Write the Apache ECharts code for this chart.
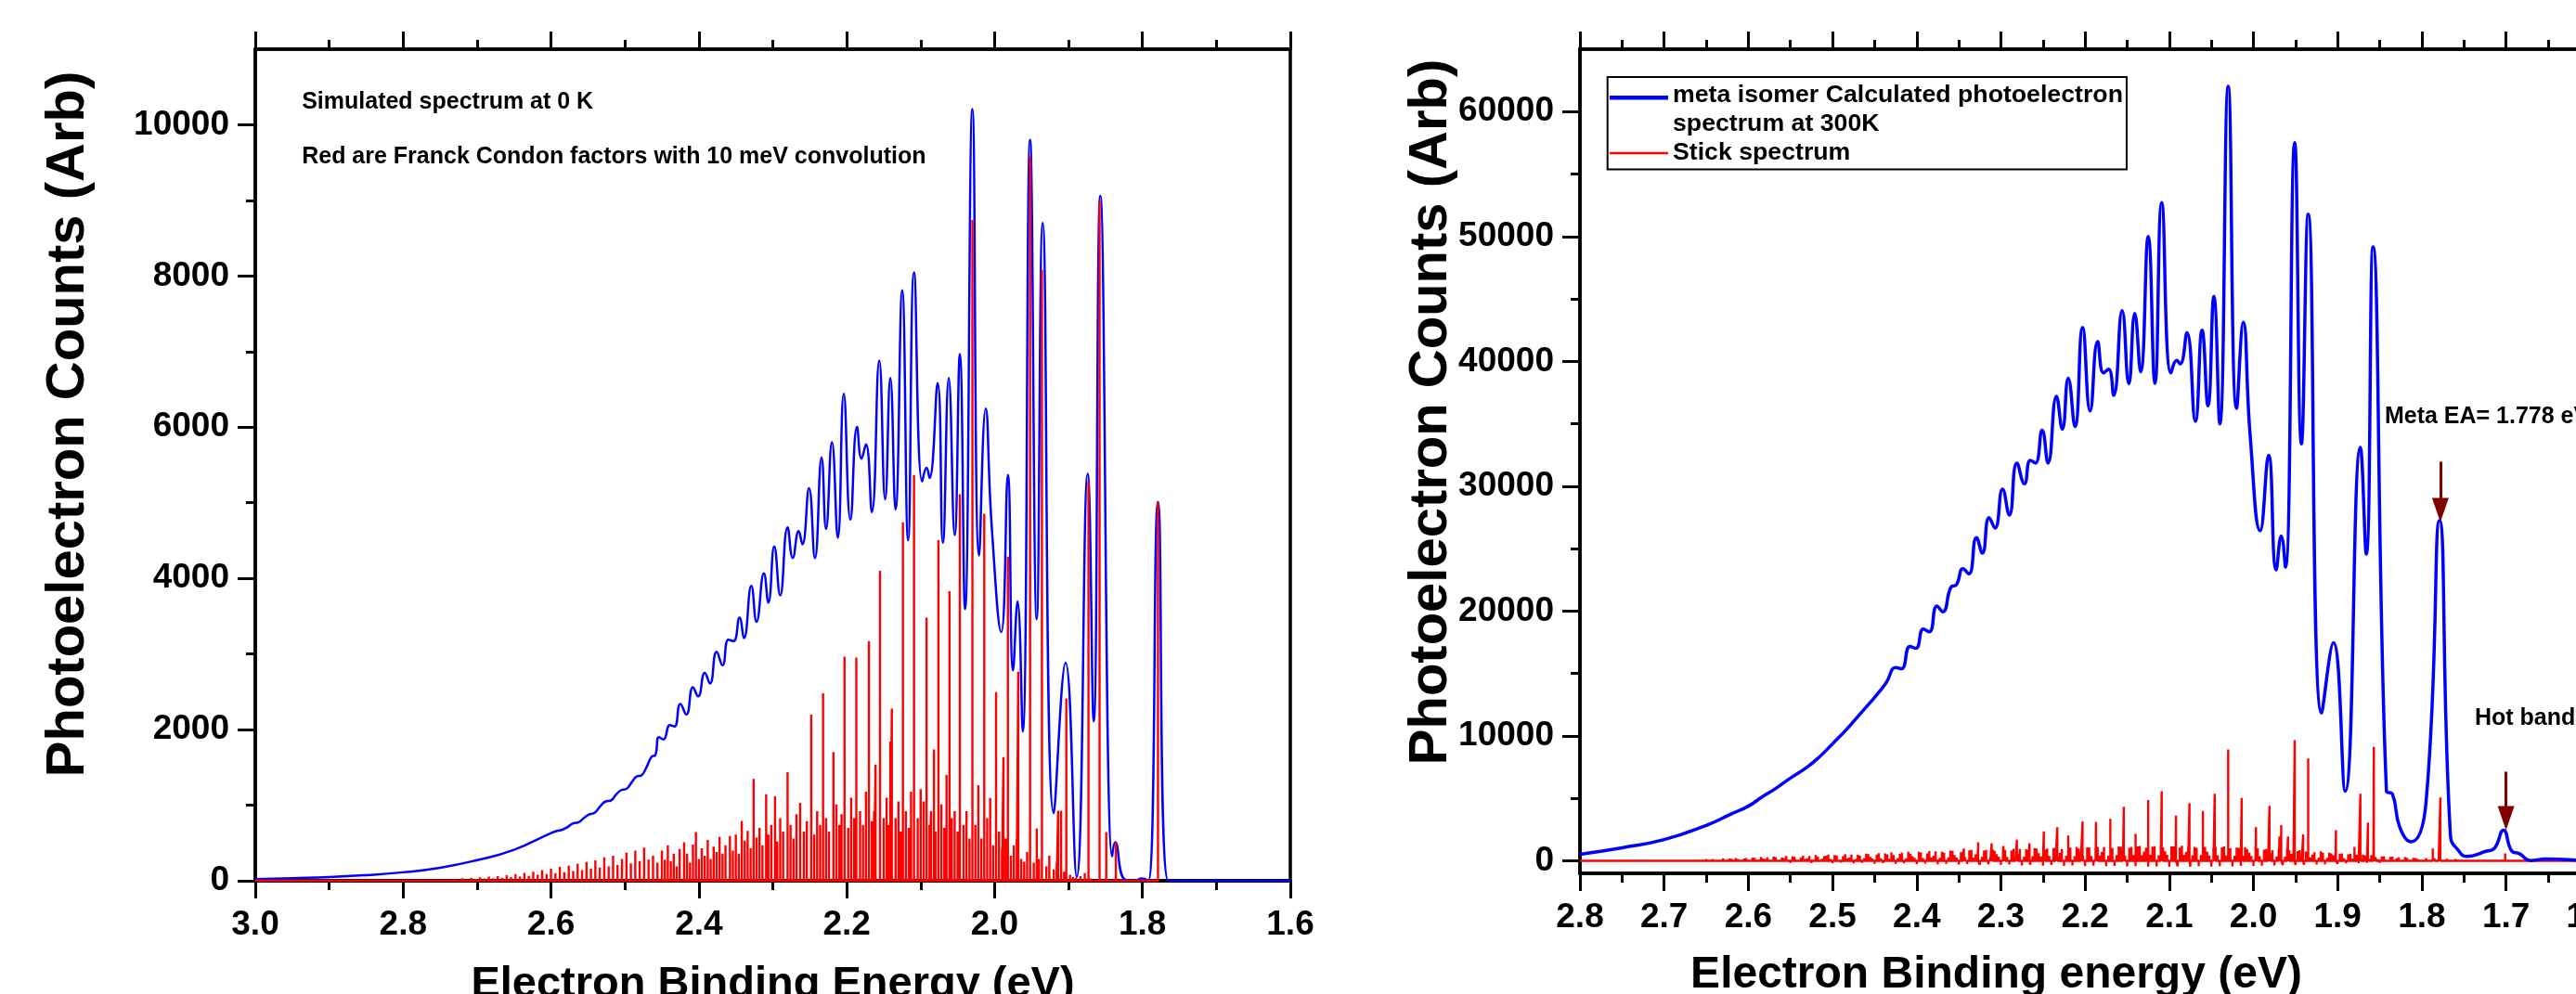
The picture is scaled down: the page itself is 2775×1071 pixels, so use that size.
<!DOCTYPE html>
<html><head><meta charset="utf-8">
<script src="https://cdn.jsdelivr.net/npm/echarts@6/dist/echarts.min.js"></script>
<style>html,body{margin:0;padding:0;background:#fff}#c{width:2775px;height:1071px}</style>
</head><body><div id="c"></div>
<script>
// ---------- DATA ----------
const LEFT_Y_TICKS = [0, 2000, 4000, 6000, 8000, 10000];
const LEFT_Y_MINOR = [1000, 3000, 5000, 7000, 9000];
const RIGHT_Y_TICKS = [0, 10000, 20000, 30000, 40000, 50000, 60000];
const RIGHT_Y_MINOR = [5000, 15000, 25000, 35000, 45000, 55000];

// Left: simulated spectrum at 0 K (blue), [eV, counts]
const LEFT_SIM = [
[3.000,22],[2.950,35],[2.900,49],[2.850,75],[2.800,112],[2.750,172],[2.700,273],[2.650,410],[2.600,632],[2.592,660],[2.585,675],[2.578,708],[2.570,760],[2.563,772],[2.555,835],[2.548,880],[2.541,900],[2.533,990],[2.526,1050],[2.519,1062],[2.512,1140],[2.505,1200],[2.498,1215],[2.491,1300],[2.484,1380],[2.478,1392],[2.471,1500],[2.464,1640],[2.459,1660],
[2.454,1900],[2.448,1870],[2.439,2060],[2.433,2040],[2.425,2340],[2.417,2200],[2.408,2560],[2.401,2440],[2.392,2750],[2.385,2610],[2.376,3030],[2.368,2850],[2.360,3190],[2.353,3170],[2.345,3480],[2.339,3210],[2.329,3900],[2.322,3425],[2.312,4066],[2.306,3681],[2.298,4424],[2.290,3776],[2.280,4674],[2.273,4269],[2.265,4626],[2.260,4451],[2.251,5193],[2.243,4269],[2.234,5598],[2.228,4653],[2.220,5800],[2.212,4538],[2.204,6442],[2.195,4775],[2.186,6003],[2.180,5584],[2.174,5773],[2.166,4876],[2.156,6880],[2.148,5045],[2.141,6651],[2.134,4910],[2.125,7811],[2.117,4505],[2.109,8047],[2.098,5281],[2.092,5463],[2.088,5328],[2.077,6583],[2.070,4471],[2.062,6651],[2.054,4572],[2.047,6968],[2.040,3594],[2.030,10207],[2.021,4302],[2.012,6246],[2.004,4707],[1.991,3290],[1.982,5368],[1.975,2784],[1.969,3695],[1.962,1974],[1.952,9802],[1.943,3459],[1.935,8702],[1.920,894],[1.904,2885],[1.889,51],[1.874,5382],[1.866,2109],[1.857,9060],[1.841,321],[1.837,510],[1.824,17],[1.811,0],[1.801,30],[1.792,0],[1.779,5011],[1.765,0],[1.600,0]
];

// Left: Franck-Condon sticks, prominent ones [eV, height]
const LEFT_FC_MAIN = [
[2.420,510],[2.404,645],[2.358,591],[2.342,793],[2.326,1347],[2.309,1144],[2.297,1117],[2.280,1435],[2.263,1030],[2.248,2197],[2.232,2480],[2.218,1704],[2.203,2966],[2.187,2953],[2.170,3169],[2.161,1536],[2.155,4100],[2.141,1840],[2.139,2278],[2.124,4741],[2.109,5368],[2.100,1212],[2.092,3479],[2.082,1738],[2.076,4505],[2.065,1401],[2.061,3830],[2.047,5112],[2.030,8742],[2.022,1266],[2.014,4856],[2.006,1097],[1.998,2494],[1.988,1637],[1.982,4289],[1.970,557],[1.968,2764],[1.960,253],[1.952,9579],[1.943,692],[1.936,8081],[1.914,928],[1.910,928],[1.903,2413],[1.894,50],[1.878,100],[1.873,5281],[1.858,8992],[1.849,645],[1.836,510],[1.779,5011]
];
// Left: small Franck-Condon sticks ("grass")
const LEFT_FC_SMALL = [
[3.000,0],[2.750,15],[2.744,22],[2.738,10],[2.732,28],[2.726,16],[2.720,34],[2.714,20],[2.708,40],[2.702,25],[2.696,45],[2.690,30],[2.684,55],[2.678,35],[2.672,62],[2.666,40],[2.660,75],[2.654,48],[2.648,90],[2.642,55],[2.636,105],[2.630,65],[2.624,120],[2.618,80],[2.612,140],[2.606,90],[2.600,160],[2.594,100],[2.588,185],[2.582,115],[2.576,200],[2.570,130],[2.564,225],[2.558,140],[2.552,250],[2.546,160],[2.540,270],[2.534,175],[2.528,310],[2.522,190],[2.516,330],[2.510,210],[2.504,290],[2.498,370],[2.492,230],[2.486,400],[2.480,260],[2.474,440],[2.468,280],[2.462,330],[2.456,240],[2.450,400],[2.446,280],[2.442,470],[2.438,260],[2.434,360],[2.430,190],[2.426,420],[2.416,360],[2.412,240],[2.408,480],[2.400,290],[2.396,430],[2.392,330],[2.388,540],[2.384,290],[2.380,450],[2.376,380],[2.372,580],[2.368,360],[2.364,470],[2.354,400],[2.350,610],[2.346,360],[2.338,530],[2.334,660],[2.330,430],[2.322,570],[2.318,700],[2.314,470],[2.306,610],[2.302,740],[2.294,520],[2.290,830],[2.286,650],[2.276,740],[2.272,560],[2.268,880],[2.258,650],[2.254,790],[2.244,610],[2.240,920],[2.236,740],[2.228,830],[2.224,650],[2.214,1010],[2.210,740],[2.207,880],[2.198,700],[2.194,1100],[2.190,830],[2.182,920],[2.178,740],[2.174,1180],[2.166,790],[2.163,920],[2.150,830],[2.146,1100],[2.144,740],[2.134,830],[2.130,1050],[2.127,650],[2.120,920],[2.116,700],[2.113,1180],[2.104,830],[2.096,1050],[2.088,740],[2.086,920],[2.080,650],[2.072,1010],[2.068,700],[2.058,830],[2.054,920],[2.050,650],[2.042,740],[2.038,920],[2.034,560],[2.026,740],[2.018,560],[2.010,830],[2.002,470],[1.994,650],[1.990,420],[1.985,560],[1.978,330],[1.974,470],[1.964,290],[1.956,380],[1.947,240],[1.940,290],[1.930,190],[1.926,330],[1.920,150],[1.916,240],[1.906,120],[1.898,80],[1.890,40],[1.884,60],[1.870,30],[1.862,20]
];

// Right: calculated photoelectron spectrum at 300 K (blue)
const RIGHT_SIM = [
[2.800,530],[2.750,1050],[2.700,1700],[2.650,2840],[2.620,3765],[2.600,4380],[2.583,5150],[2.568,5770],[2.550,6630],[2.531,7465],[2.517,8235],[2.500,9375],[2.483,10545],[2.469,11625],[2.455,12700],[2.445,13500],[2.436,14300],[2.425,15480],[2.418,15380],[2.408,17175],[2.401,17020],[2.392,18560],[2.385,18345],[2.376,20410],[2.369,19950],[2.359,21950],[2.353,22100],[2.345,23400],[2.338,22973],[2.329,25893],[2.322,24642],[2.314,27480],[2.307,26645],[2.298,29774],[2.290,27688],[2.281,31860],[2.272,30191],[2.265,32068],[2.259,31860],[2.251,34488],[2.244,31860],[2.234,37200],[2.227,34571],[2.220,38660],[2.212,34780],[2.203,42707],[2.194,36031],[2.185,41580],[2.178,39077],[2.172,39370],[2.166,37283],[2.156,44083],[2.148,38200],[2.141,43833],[2.134,39160],[2.125,50008],[2.117,38243],[2.109,52720],[2.098,39077],[2.091,40080],[2.087,39786],[2.079,42290],[2.069,35200],[2.061,42500],[2.054,36450],[2.047,45210],[2.040,34990],[2.030,62020],[2.020,36240],[2.012,43125],[2.004,34155],[1.992,26436],[1.982,32485],[1.973,23307],[1.967,26020],[1.962,23516],[1.951,57517],[1.943,33400],[1.935,51780],[1.919,11835],[1.905,17466],[1.891,5577],[1.873,33112],[1.866,24560],[1.858,49173],[1.842,5577],[1.835,5368],[1.826,2656],[1.813,1530],[1.795,4700],[1.779,27270],[1.766,2030],[1.756,780],[1.747,360],[1.723,780],[1.714,990],[1.703,2450],[1.693,780],[1.684,570],[1.671,30],[1.653,150],[1.600,30],[1.500,0]
];

// Right: stick spectrum, strong lines
const RIGHT_STICK_PEAKS = [
[2.344,985],[2.327,1490],[2.311,1405],[2.297,1195],[2.281,1700],[2.266,1405],[2.249,2365],[2.233,2700],[2.220,2030],[2.203,3160],[2.187,3115],[2.170,3365],[2.154,4325],[2.140,2155],[2.125,4870],[2.109,5575],[2.092,3620],[2.076,4620],[2.060,3990],[2.046,5370],[2.030,8915],[2.014,5035],[1.997,2700],[1.981,4410],[1.969,1950],[1.967,2865],[1.959,1950],[1.951,9665],[1.941,2115],[1.935,8205],[1.902,2450],[1.880,1115],[1.873,5370],[1.864,3075],[1.857,9120],[1.787,985],[1.778,5075],[1.701,600]
];
// Right: stick spectrum, dense weak background
const RIGHT_STICK_NOISE = [
[2.800,8],[2.795,-12],[2.790,20],[2.785,-6],[2.780,30],[2.775,-18],[2.770,12],[2.765,38],[2.760,-26],[2.755,18],
[2.750,-15],[2.745,45],[2.740,-32],[2.735,25],[2.730,58],[2.725,-20],[2.720,70],[2.715,-44],[2.710,36],[2.705,-28],
[2.700,85],[2.695,-40],[2.690,62],[2.685,115],[2.680,-55],[2.675,80],[2.670,-72],[2.665,140],[2.660,-38],[2.655,105],
[2.650,160],[2.645,-85],[2.640,128],[2.635,-60],[2.630,200],[2.625,-95],[2.620,170],[2.615,235],[2.610,-70],[2.605,185],
[2.600,-130],[2.595,260],[2.590,-90],[2.585,310],[2.580,150],[2.575,-140],[2.570,345],[2.565,-105],[2.560,270],[2.555,390],
[2.550,-160],[2.545,320],[2.540,-120],[2.535,420],[2.530,200],[2.525,-175],[2.520,460],[2.515,-130],[2.510,370],[2.505,500],
[2.500,-200],[2.495,430],[2.490,-150],[2.485,540],[2.480,260],[2.475,-210],[2.470,490],[2.465,-170],[2.460,580],[2.455,320],
[2.450,-230],[2.445,620],[2.440,-190],[2.435,520],[2.430,680],[2.425,-240],[2.420,570],[2.415,-200],[2.410,730],[2.405,380],
[2.400,-260],[2.395,680],[2.390,-220],[2.385,780],[2.380,420],[2.375,-280],[2.370,720],[2.365,-240],[2.360,830],[2.355,470],
[2.350,-300],[2.345,740],[2.340,-260],[2.335,880],[2.330,520],[2.325,-310],[2.320,820],[2.315,-280],[2.310,930],[2.305,540],
[2.300,-330],[2.295,880],[2.290,-290],[2.285,970],[2.280,580],[2.275,-360],[2.270,930],[2.265,-320],[2.260,1020],[2.255,620],
[2.250,-380],[2.245,980],[2.240,-340],[2.235,1060],[2.230,640],[2.225,-400],[2.220,1030],[2.215,-360],[2.210,1110],[2.205,680],
[2.200,-420],[2.195,1070],[2.190,-380],[2.185,1120],[2.180,720],[2.175,-430],[2.170,1040],[2.165,-400],[2.160,1160],[2.155,730],
[2.150,-450],[2.145,1120],[2.140,-430],[2.135,1200],[2.130,740],[2.125,-470],[2.120,1130],[2.115,-440],[2.110,1210],[2.105,760],
[2.100,-480],[2.095,1160],[2.090,-440],[2.085,1220],[2.080,720],[2.075,-460],[2.070,1120],[2.065,-430],[2.060,1170],[2.055,720],
[2.050,-460],[2.045,1110],[2.040,-430],[2.035,1150],[2.030,700],[2.025,-440],[2.020,1060],[2.015,-410],[2.010,1100],[2.005,660],
[2.000,-410],[1.995,1010],[1.990,-390],[1.985,960],[1.980,610],[1.975,-370],[1.970,900],[1.965,-340],[1.960,950],[1.955,560],
[1.950,-340],[1.945,860],[1.940,-310],[1.935,800],[1.930,500],[1.925,-290],[1.920,760],[1.915,-270],[1.910,660],[1.905,450],
[1.900,-240],[1.895,600],[1.890,-210],[1.885,560],[1.880,350],[1.875,-190],[1.870,500],[1.865,-170],[1.860,460],[1.855,300],
[1.850,-160],[1.845,380],[1.840,-140],[1.835,330],[1.830,200],[1.825,-120],[1.820,300],[1.815,-100],[1.810,250],[1.805,150],
[1.800,-90],[1.795,220],[1.790,-80],[1.785,200],[1.780,120],[1.775,-70],[1.770,170],[1.765,-60],[1.760,150],[1.755,90],
[1.750,-55],[1.745,130],[1.740,-45],[1.735,110],[1.730,70],[1.725,-40],[1.720,90],[1.715,-35],[1.710,80],[1.705,50],
[1.700,-30],[1.695,60],[1.690,-25],[1.685,50],[1.680,30],[1.675,-20],[1.670,40],[1.665,-18],[1.660,30],[1.655,20],
[1.650,-10],[1.645,20],[1.640,-10],[1.635,15],[1.630,10],[1.625,-8],[1.620,10],[1.615,-5],[1.610,8],[1.605,5],[1.600,0]
];
// Right: stick spectrum, more weak background lines between the ones above
const RIGHT_STICK_NOISE_B = [
[2.6475,60],[2.6425,150],[2.6375,40],[2.6325,110],[2.6275,80],[2.6225,190],[2.6175,50],[2.6125,160],[2.6075,90],[2.6025,220],
[2.5975,70],[2.5925,240],[2.5875,120],[2.5825,190],[2.5775,280],[2.5725,90],[2.5675,300],[2.5625,140],[2.5575,230],[2.5525,110],
[2.5475,350],[2.5425,130],[2.5375,280],[2.5325,160],[2.5275,390],[2.5225,120],[2.5175,330],[2.5125,170],[2.5075,420],[2.5025,150],
[2.4975,460],[2.4925,140],[2.4875,380],[2.4825,190],[2.4775,500],[2.4725,160],[2.4675,430],[2.4625,200],[2.4575,540],[2.4525,180],
[2.4475,500],[2.4425,210],[2.4375,600],[2.4325,170],[2.4275,470],[2.4225,230],[2.4175,650],[2.4125,200],[2.4075,560],[2.4025,250],
[2.3975,720],[2.3925,230],[2.3875,600],[2.3825,260],[2.3775,760],[2.3725,240],[2.3675,650],[2.3625,280],[2.3575,800],[2.3525,260],
[2.3475,700],[2.3425,300],[2.3375,840],[2.3325,270],[2.3275,760],[2.3225,320],[2.3175,880],[2.3125,290],[2.3075,800],[2.3025,340],
[2.2975,920],[2.2925,310],[2.2875,830],[2.2825,350],[2.2775,950],[2.2725,330],[2.2675,870],[2.2625,380],[2.2575,990],[2.2525,350],
[2.2475,900],[2.2425,400],[2.2375,1020],[2.2325,370],[2.2275,940],[2.2225,410],[2.2175,1060],[2.2125,380],[2.2075,980],[2.2025,430],
[2.1975,1080],[2.1925,400],[2.1875,1000],[2.1825,440],[2.1775,1100],[2.1725,420],[2.1675,1030],[2.1625,460],[2.1575,1130],[2.1525,430],
[2.1475,1050],[2.1425,470],[2.1375,1150],[2.1325,450],[2.1275,1060],[2.1225,480],[2.1175,1170],[2.1125,450],[2.1075,1080],[2.1025,490],
[2.0975,1160],[2.0925,460],[2.0875,1070],[2.0825,480],[2.0775,1140],[2.0725,450],[2.0675,1050],[2.0625,470],[2.0575,1120],[2.0525,440],
[2.0475,1040],[2.0425,450],[2.0375,1090],[2.0325,430],[2.0275,1000],[2.0225,420],[2.0175,1040],[2.0125,400],[2.0075,950],[2.0025,400],
[1.9975,960],[1.9925,380],[1.9875,900],[1.9825,360],[1.9775,860],[1.9725,350],[1.9675,820],[1.9625,330],[1.9575,850],[1.9525,320],
[1.9475,780],[1.9425,300],[1.9375,740],[1.9325,280],[1.9275,700],[1.9225,270],[1.9175,650],[1.9125,250],[1.9075,600],[1.9025,230],
[1.8975,560],[1.8925,210],[1.8875,520],[1.8825,190],[1.8775,480],[1.8725,180],[1.8675,440],[1.8625,160],[1.8575,400],[1.8525,150],
[1.8475,350],[1.8425,130],[1.8375,310],[1.8325,120],[1.8275,280],[1.8225,100],[1.8175,250],[1.8125,90],[1.8075,220],[1.8025,80]
];

// Annotations: [eV, counts] anchors
const META_EA_ARROW = [[1.778, 31970], [1.778, 28100]];
const HOT_BAND_ARROW = [[1.700, 7140], [1.700, 3420]];

const BLUE_R_NAME = 'meta isomer Calculated photoelectron spectrum at 300K';
const RED_R_NAME = 'Stick spectrum';

// ---------- CHART ----------
const FONT = "'Liberation Sans', Arial, Helvetica, sans-serif";
const BLACK = '#000';
const AXLINE = { show: true, onZero: false, lineStyle: { color: BLACK, width: 3.5 } };
const TICKSTYLE = { color: BLACK, width: 3 };
const TICKLABEL = { fontSize: 37, fontWeight: 'bold', color: BLACK, fontFamily: FONT };

const sortDesc = (a, b) => b[0] - a[0];
// stick spectra drawn as vertical lines from the baseline
function toStickLine(list) {
  const out = [];
  list.slice().sort(sortDesc).forEach(([e, h]) => { out.push([e, 0], [e, h], [e, 0]); });
  return out;
}
const leftStickLine = toStickLine(LEFT_FC_MAIN.concat(LEFT_FC_SMALL));
const rightStickLine = toStickLine(RIGHT_STICK_NOISE.concat(RIGHT_STICK_NOISE_B, RIGHT_STICK_PEAKS));

function xAx(grid, min, max, interval, pos, labels, extra) {
  return Object.assign({
    gridIndex: grid, type: 'value', min: min, max: max, interval: interval, inverse: true, position: pos,
    axisLine: AXLINE,
    axisTick: { show: true, length: 19, lineStyle: TICKSTYLE },
    minorTick: { show: true, splitNumber: 2, length: 10, lineStyle: TICKSTYLE },
    splitLine: { show: false }, minorSplitLine: { show: false },
    axisLabel: labels ? Object.assign({ show: true, margin: 29, formatter: v => v.toFixed(1) }, TICKLABEL) : { show: false }
  }, extra || {});
}
function yAxMain(grid, min, max, ticks, extra) {
  return Object.assign({
    gridIndex: grid, type: 'value', min: min, max: max, position: 'left',
    axisLine: AXLINE,
    axisTick: { show: true, length: 19, customValues: ticks, lineStyle: TICKSTYLE },
    axisLabel: Object.assign({ show: true, margin: 28, customValues: ticks, formatter: v => String(Math.round(v)) }, TICKLABEL),
    splitLine: { show: false }
  }, extra || {});
}
function yAxMinor(grid, min, max, ticks) {
  return {
    gridIndex: grid, type: 'value', min: min, max: max, position: 'left',
    axisLine: { show: false },
    axisTick: { show: true, length: 10, customValues: ticks, lineStyle: TICKSTYLE },
    axisLabel: { show: false }, splitLine: { show: false }
  };
}
const txt = (s, size) => ({ show: true, position: 'right', distance: 0, formatter: s, fontSize: size, fontWeight: 'bold', color: BLACK, fontFamily: FONT });

const option = {
  animation: false,
  backgroundColor: '#fff',
  grid: [
    { left: 275, top: 53, width: 1115, height: 896, show: true, borderColor: BLACK, borderWidth: 3.5, backgroundColor: 'transparent', containLabel: false, outerBoundsMode: 'none' },
    { left: 1702, top: 53, width: 1179, height: 888, show: true, borderColor: BLACK, borderWidth: 3.5, backgroundColor: 'transparent', containLabel: false, outerBoundsMode: 'none' }
  ],
  legend: {
    orient: 'vertical', left: 1731.7, top: 83,
    padding: [4.5, 4, 2, 2.3], borderColor: BLACK, borderWidth: 2, backgroundColor: '#fff',
    itemWidth: 63, itemHeight: 31, itemGap: 0, selectedMode: false,
    textStyle: { fontSize: 26.7, fontWeight: 'bold', color: BLACK, fontFamily: FONT, lineHeight: 31 },
    formatter: n => n === BLUE_R_NAME ? 'meta isomer Calculated photoelectron\nspectrum at 300K' : n,
    data: [
      { name: BLUE_R_NAME, icon: 'path://M0,0H63V4.5H0Z M0,30.9H0.1V31H0Z' },
      { name: RED_R_NAME, icon: 'path://M0,14.3H63V16.7H0Z M0,0H0.1V0.1H0Z M0,30.9H0.1V31H0Z' }
    ]
  },
  xAxis: [
    xAx(0, 1.6, 3.0, 0.2, 'bottom', true, {
      name: 'Electron Binding Energy (eV)', nameLocation: 'middle', nameGap: 89, nameMoveOverlap: false,
      nameTextStyle: { fontSize: 47, fontWeight: 'bold', color: BLACK, fontFamily: FONT }
    }),
    xAx(0, 1.6, 3.0, 0.2, 'top', false),
    xAx(1, 1.5, 2.8, 0.1, 'bottom', true, {
      name: 'Electron Binding energy (eV)', nameLocation: 'middle', nameGap: 86, nameMoveOverlap: false,
      nameTextStyle: { fontSize: 48, fontWeight: 'bold', color: BLACK, fontFamily: FONT, padding: [0, 282, 0, 0] }
    }),
    xAx(1, 1.5, 2.8, 0.1, 'top', false)
  ],
  yAxis: [
    yAxMain(0, 0, 11000, LEFT_Y_TICKS, {
      name: 'Photoelectron Counts (Arb)', nameLocation: 'middle', nameGap: 172, nameMoveOverlap: false,
      nameTextStyle: { fontSize: 58, fontWeight: 'bold', color: BLACK, fontFamily: FONT, padding: [0, 0, 0, 88] }
    }),
    yAxMinor(0, 0, 11000, LEFT_Y_MINOR),
    yAxMain(1, -1000, 65000, RIGHT_Y_TICKS, {
      name: 'Photoelectron Counts (Arb)', nameLocation: 'middle', nameGap: 131, nameMoveOverlap: false,
      nameTextStyle: { fontSize: 58, fontWeight: 'bold', color: BLACK, fontFamily: FONT, padding: [0, 0, 0, 106] }
    }),
    yAxMinor(1, -1000, 65000, RIGHT_Y_MINOR)
  ],
  series: [
    {
      name: 'Simulated spectrum at 0 K', type: 'line', xAxisIndex: 0, yAxisIndex: 0,
      data: LEFT_SIM, symbol: 'none', showSymbol: false, smooth: 0.5,
      color: '#0000ff', lineStyle: { color: '#0000ff', width: 2.5 }, z: 2,
      markPoint: {
        silent: true, symbol: 'circle', symbolSize: 0, itemStyle: { color: 'transparent' },
        data: [
          { coord: [2.937, 10295], label: txt('Simulated spectrum at 0 K', 25) },
          { coord: [2.937, 9569], label: txt('Red are Franck Condon factors with 10 meV convolution', 25) }
        ]
      }
    },
    {
      name: 'Franck Condon factors', type: 'line', xAxisIndex: 0, yAxisIndex: 0,
      data: leftStickLine, symbol: 'none', showSymbol: false,
      color: '#ff0000', lineStyle: { color: '#ff0000', width: 2.4 }, z: 3
    },
    {
      name: RED_R_NAME, type: 'line', xAxisIndex: 2, yAxisIndex: 2,
      data: rightStickLine, symbol: 'none', showSymbol: false,
      color: '#ff0000', itemStyle: { color: '#ff0000' }, lineStyle: { color: '#ff0000', width: 2.4 }, z: 2
    },
    {
      name: BLUE_R_NAME, type: 'line', xAxisIndex: 2, yAxisIndex: 2,
      data: RIGHT_SIM, symbol: 'none', showSymbol: false, smooth: 0.5,
      color: '#0000ff', itemStyle: { color: '#0000ff' }, lineStyle: { color: '#0000ff', width: 3.5 }, z: 3,
      markLine: {
        silent: true, symbol: ['none', 'triangle'], symbolSize: [18, 26],
        lineStyle: { color: '#800000', width: 3, type: 'solid' }, itemStyle: { color: '#800000' },
        label: { show: false },
        data: [
          [{ coord: META_EA_ARROW[0] }, { coord: META_EA_ARROW[1] }],
          [{ coord: HOT_BAND_ARROW[0] }, { coord: HOT_BAND_ARROW[1] }]
        ]
      },
      markPoint: {
        silent: true, symbol: 'circle', symbolSize: 0, itemStyle: { color: 'transparent' },
        data: [
          { coord: [1.8441, 35540], label: txt('Meta EA= 1.778 eV', 25) },
          { coord: [1.7372, 11413], label: txt('Hot band', 25) }
        ]
      }
    }
  ]
};
const chart = echarts.init(document.getElementById('c'), null, { renderer: 'canvas' });
chart.setOption(option);
</script>
</body></html>
